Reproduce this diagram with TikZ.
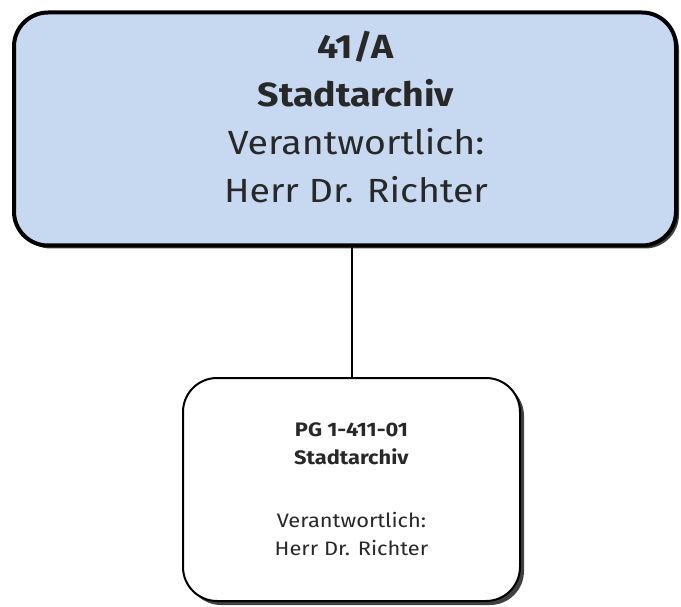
\documentclass[tikz,border=0pt]{standalone}
\usepackage{fontspec}
\setmainfont{Fira Sans}[FakeStretch=1.12]
\usetikzlibrary{shadows}
\definecolor{boxblue}{RGB}{198,217,241}
\definecolor{txt}{RGB}{40,40,40}
\tikzset{
  unitbox/.style={rectangle, rounded corners=34pt, draw=black, inner sep=0pt},
  bigbox/.style={unitbox, fill=boxblue, line width=4pt, minimum width=662pt, minimum height=233pt,
    drop shadow={shadow xshift=3pt, shadow yshift=-3pt, fill=black, opacity=0.75}},
  smallbox/.style={unitbox, fill=white, line width=2pt, minimum width=337pt, minimum height=223pt,
    drop shadow={shadow xshift=4pt, shadow yshift=-4pt, fill=black, opacity=0.75}},
  bigtext/.style={align=center, text=txt, inner sep=0pt, font=\fontsize{33.5}{48}\selectfont},
  smalltext/.style={align=center, text=txt, inner sep=0pt, font=\fontsize{19.5}{28}\selectfont},
  link/.style={draw=black, line width=2pt}
}
\begin{document}
\begin{tikzpicture}[x=1pt,y=-1pt]
\useasboundingbox (0,0) rectangle (681,607);
\node[bigbox] (top) at (345,129) {};
\node[bigtext, xshift=11pt, yshift=12pt] (toptext) at (top.center)
  {\textbf{41/A}\\ \textbf{Stadtarchiv}\\ Verantwortlich:\\ Herr Dr. Richter};
\node[smallbox] (bot) at (351.5,489.5) {};
\node[smalltext] (bottext) at (bot.center)
  {\textbf{PG 1-411-01}\\ \textbf{Stadtarchiv}\\[35pt] Verantwortlich:\\ Herr Dr. Richter};
\draw[link] (bot.north |- top.south) -- (bot.north);
\end{tikzpicture}
\end{document}
